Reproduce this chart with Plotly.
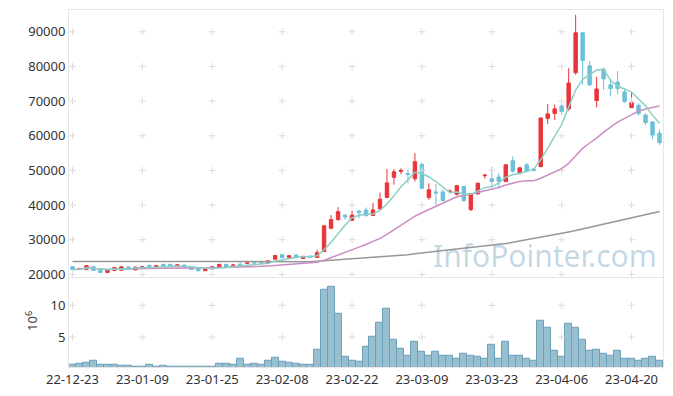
import plotly.graph_objects as go
import pandas as pd

dates = ["22-12-23", "22-12-26", "22-12-27", "22-12-28", "22-12-29",
         "23-01-02", "23-01-03", "23-01-04", "23-01-05", "23-01-06",
         "23-01-09", "23-01-10", "23-01-11", "23-01-12", "23-01-13",
         "23-01-16", "23-01-17", "23-01-18", "23-01-19", "23-01-20",
         "23-01-25", "23-01-26", "23-01-27", "23-01-30", "23-01-31",
         "23-02-01", "23-02-02", "23-02-03", "23-02-06", "23-02-07",
         "23-02-08", "23-02-09", "23-02-10", "23-02-13", "23-02-14",
         "23-02-15", "23-02-16", "23-02-17", "23-02-20", "23-02-21",
         "23-02-22", "23-02-23", "23-02-24", "23-02-27", "23-02-28",
         "23-03-02", "23-03-03", "23-03-06", "23-03-07", "23-03-08",
         "23-03-09", "23-03-10", "23-03-13", "23-03-14", "23-03-15",
         "23-03-16", "23-03-17", "23-03-20", "23-03-21", "23-03-22",
         "23-03-23", "23-03-24", "23-03-27", "23-03-28", "23-03-29",
         "23-03-30", "23-03-31", "23-04-03", "23-04-04", "23-04-05",
         "23-04-06", "23-04-07", "23-04-10", "23-04-11", "23-04-12",
         "23-04-13", "23-04-14", "23-04-17", "23-04-18", "23-04-19",
         "23-04-20", "23-04-21", "23-04-24", "23-04-25", "23-04-26"]

opens = [22200, 21500, 21450, 22200, 21250, 20550, 21150, 21200, 22150, 21300,
         22000, 22600, 22200, 22900, 22900, 22200, 22700, 22100, 21700, 21050,
         21600, 22000, 22900, 22500, 22900, 23200, 23400, 23500, 23300, 24400,
         25700, 24900, 25600, 24600, 25300, 24900, 26600, 33300, 35800, 37100,
         35600, 38300, 38600, 37000, 38900, 42200, 48000, 49700, 49100, 47600,
         51700, 42200, 43800, 43800, 43900, 43100, 45400, 38700, 43200, 48450,
         47600, 48100, 46800, 52800, 49200, 51600, 50400, 51100, 65000, 66400,
         68600, 67750, 78200, 89700, 80200, 70150, 79200, 74700, 75500, 72650,
         68100, 68800, 66000, 64000, 60750]

highs = [22400, 21700, 22600, 22300, 21400, 21500, 22100, 22300, 22300, 22200,
         22300, 22800, 22600, 23000, 23000, 22900, 22800, 22200, 21800, 21800,
         22300, 22950, 23000, 22900, 23500, 23400, 23600, 23600, 24000, 25500,
         25800, 25500, 25700, 25300, 25400, 27100, 34300, 37100, 39400, 37300,
         38400, 38400, 39300, 40600, 43600, 50400, 50400, 50600, 50300, 55000,
         52300, 46300, 46100, 44500, 44500, 45800, 45500, 43500, 46500, 48900,
         51100, 49300, 51800, 54000, 50900, 52200, 50700, 65300, 69100, 69000,
         69200, 79500, 94900, 89800, 81600, 76970, 79700, 76300, 78700, 73700,
         72600, 69300, 66500, 64200, 61800]

lows = [21300, 21200, 21400, 21000, 20400, 20450, 20900, 21100, 21300, 21200,
        21900, 22100, 22100, 22300, 22200, 22100, 22000, 21400, 20900, 21000,
        21500, 21900, 21900, 22300, 22300, 23000, 23200, 23200, 23200, 24300,
        24700, 24800, 24900, 24500, 24800, 24800, 26400, 33000, 35500, 35800,
        35400, 36200, 36600, 36800, 38700, 42000, 45900, 48900, 46300, 46800,
        44600, 41500, 40000, 41000, 43400, 42800, 41000, 38200, 43000, 47700,
        45400, 44900, 46600, 49300, 48800, 49400, 49700, 50900, 63400, 64600,
        66000, 67200, 77600, 74700, 74300, 68240, 73200, 71300, 72000, 69500,
        68000, 65800, 63100, 59000, 57300]

closes = [21400, 21600, 22500, 21150, 20550, 21400, 22000, 22200, 21400, 22100,
          22200, 22150, 22500, 22400, 22300, 22800, 22100, 21450, 21050, 21700,
          22200, 22900, 22000, 22700, 22400, 23300, 23300, 23300, 23900, 25450,
          24800, 25400, 25000, 25200, 25000, 26250, 34000, 35800, 38100, 36600,
          37100, 37800, 37000, 38600, 41700, 46400, 49600, 50000, 48800, 52500,
          44800, 44400, 43500, 41300, 44000, 45600, 41300, 43300, 46300, 48650,
          46800, 46900, 51600, 49800, 50750, 49700, 50000, 65100, 66300, 67750,
          67000, 75200, 89700, 81700, 74700, 73500, 76400, 73600, 73600, 69860,
          69500, 66400, 63800, 60200, 58000]

volumes_m = [0.7, 0.85, 1.0, 1.2, 0.7, 0.7, 0.7, 0.53, 0.53, 0.38,
             0.38, 0.7, 0.38, 0.53, 0.38, 0.38, 0.38, 0.38, 0.38, 0.38,
             0.38, 0.85, 0.85, 0.7, 1.5, 0.7, 0.85, 0.7, 1.3, 1.8,
             1.15, 1.0, 0.85, 0.7, 0.7, 3.06, 12.5, 13.0, 8.6, 1.95,
             1.3, 1.15, 3.4, 5.05, 7.3, 9.4, 4.5, 3.2, 2.1, 4.3,
             2.7, 2.1, 2.6, 2.1, 2.1, 1.65, 2.3, 2.1, 1.95, 1.65,
             3.85, 1.65, 4.2, 2.1, 2.1, 1.5, 1.3, 7.6, 6.5, 2.9,
             1.95, 7.15, 6.5, 4.5, 2.9, 3.05, 2.3, 2.1, 2.9, 1.65,
             1.5, 1.3, 1.5, 1.95, 1.3]

ma_long = [23700, 23700, 23700, 23700, 23700, 23700, 23700, 23700, 23700, 23700,
           23650, 23650, 23650, 23650, 23650, 23650, 23650, 23650, 23650, 23650,
           23550, 23550, 23550, 23550, 23550, 23550, 23550, 23550, 23550, 23550,
           23500, 23500, 23500, 23580, 23680, 23800, 23930, 24060, 24190, 24320,
           24450, 24590, 24730, 24860, 25000, 25130, 25260, 25390, 25660, 25930,
           26200, 26470, 26700, 26900, 27100, 27300, 27500, 27700, 27900, 28100,
           28350, 28600, 28900, 29250, 29600, 30000, 30350, 30700, 31050, 31450,
           31850, 32250, 32650, 33100, 33550, 34000, 34450, 34950, 35450, 35950,
           36400, 36850, 37300, 37750, 38160]

price_ticks = [20000, 30000, 40000, 50000, 60000, 70000, 80000, 90000]
vol_ticks = [5, 10]
x_ticks = dates[::10]

ma5 = pd.Series(closes).rolling(5, min_periods=1).mean()
ma20 = pd.Series(closes).rolling(20, min_periods=1).mean()

RED = "#e8343a"
BLUE = "#6cc0d8"
GRIDC = "#dcdcdc"
FONT = "Noto Sans"

fig = go.Figure()

# grid crosses (behind data)
gx, gy = [], []
for xv in x_ticks:
    for yv in price_ticks:
        gx.append(xv); gy.append(yv)
vx, vy = [], []
for xv in x_ticks:
    for yv in vol_ticks:
        vx.append(xv); vy.append(yv)
cross = dict(symbol="cross-thin", size=5, line=dict(color=GRIDC, width=1))
fig.add_trace(go.Scatter(x=gx, y=gy, mode="markers", xaxis="x", yaxis="y",
                         marker=cross, hoverinfo="skip", showlegend=False))
fig.add_trace(go.Scatter(x=vx, y=vy, mode="markers", xaxis="x2", yaxis="y2",
                         marker=cross, hoverinfo="skip", showlegend=False))

fig.add_trace(go.Candlestick(
    x=dates, open=opens, high=highs, low=lows, close=closes,
    xaxis="x", yaxis="y",
    increasing=dict(line=dict(color=RED, width=1), fillcolor=RED),
    decreasing=dict(line=dict(color=BLUE, width=1), fillcolor=BLUE),
    whiskerwidth=0, showlegend=False))

fig.add_trace(go.Scatter(x=dates, y=ma_long, mode="lines", xaxis="x", yaxis="y",
                         line=dict(color="#979797", width=1.5), showlegend=False))
fig.add_trace(go.Scatter(x=dates, y=ma20, mode="lines", xaxis="x", yaxis="y",
                         line=dict(color="#cc8cc4", width=1.5), showlegend=False))
fig.add_trace(go.Scatter(x=dates, y=ma5, mode="lines", xaxis="x", yaxis="y",
                         line=dict(color="#8ccfc4", width=1.5), showlegend=False))

fig.add_trace(go.Bar(x=dates, y=volumes_m, xaxis="x2", yaxis="y2",
                     marker=dict(color="#98bfcf", line=dict(color="#6c9fb8", width=1)),
                     showlegend=False))

axis_common = dict(showgrid=False, zeroline=False, showline=True, mirror=True,
                   linecolor="#e6e6e6", linewidth=1, ticks="", automargin=False)

# page body has an 8px margin: figure is sized/offset so the plot area
# lands where the reference has it within the 673x396 window
fig.update_layout(
    width=665, height=388,
    margin=dict(l=61, r=10, t=2, b=29),
    paper_bgcolor="white", plot_bgcolor="white",
    font=dict(family=FONT, size=13, color="#333333"),
    bargap=0,
    xaxis=dict(type="category", categoryorder="array", categoryarray=dates,
               domain=[0, 1], anchor="y", range=[-0.5, 84.5],
               tickvals=x_ticks, showticklabels=False,
               rangeslider=dict(visible=False), **axis_common),
    yaxis=dict(domain=[0.253, 1], anchor="x", range=[19337, 96282],
               tickvals=price_ticks, tickformat="d", **axis_common),
    xaxis2=dict(type="category", categoryorder="array", categoryarray=dates,
                domain=[0, 1], anchor="y2", matches="x",
                range=[-0.5, 84.5], tickvals=x_ticks, ticktext=x_ticks,
                tickangle=0, showticklabels=True, **axis_common),
    yaxis2=dict(domain=[0, 0.25], anchor="x2", range=[0.27, 14.35],
                tickvals=vol_ticks, **axis_common),
    annotations=[
        dict(text="InfoPointer.com", xref="paper", yref="paper",
             x=0.802, y=0.311, xanchor="center", yanchor="middle",
             showarrow=False,
             font=dict(family=FONT, size=30, color="rgba(100,150,185,0.38)")),
        dict(text="10<sup>6</sup>", xref="paper", yref="paper",
             x=-0.0623, y=0.129, xanchor="center", yanchor="middle",
             textangle=-90, showarrow=False,
             font=dict(family=FONT, size=13, color="#333333")),
    ],
)

fig.write_html("out.html")
